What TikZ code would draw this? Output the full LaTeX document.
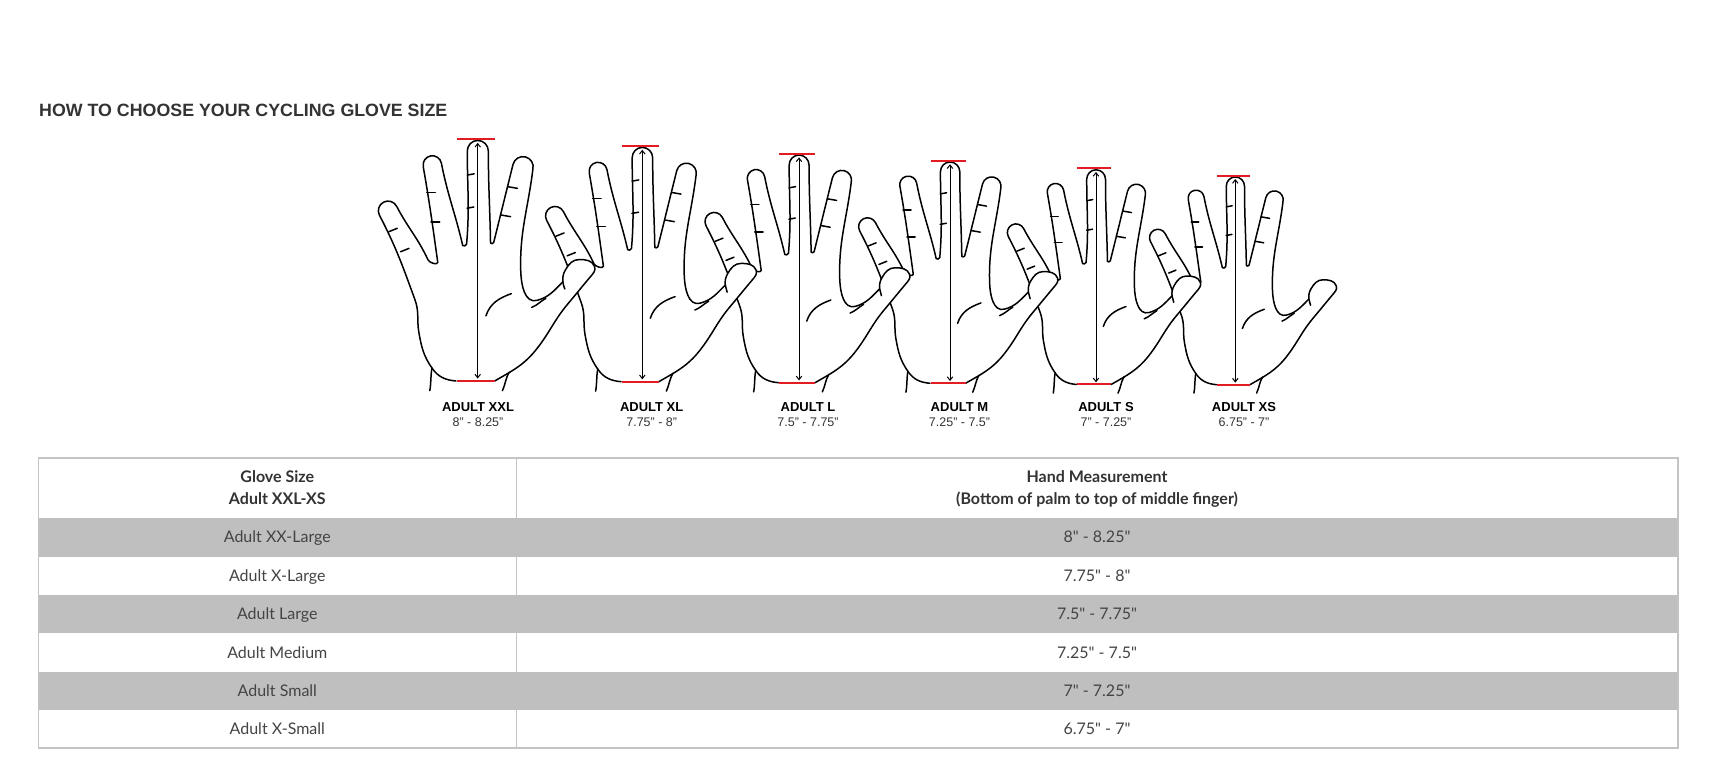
\documentclass[tikz,border=0pt]{standalone}
\usepackage{fontspec}
\setmainfont{Lato}[Ligatures=TeXOff]
\newfontfamily\arialf{Liberation Sans}
\usetikzlibrary{arrows.meta}
\definecolor{redbar}{HTML}{E31B23}
\definecolor{rowgray}{HTML}{BFBFBF}
\definecolor{tblline}{HTML}{C4C4C4}
\definecolor{txt}{HTML}{444444}
\definecolor{head}{HTML}{333333}
\tikzset{
  handline/.style={line width=1.5pt, line join=round, line cap=round, black},
  redline/.style={line width=2pt, redbar},
  measure/.style={line width=1pt, {Straight Barb[length=3.5pt,width=5.5pt]}-{Straight Barb[length=3.5pt,width=5.5pt]}},
  tblborder/.style={line width=1.5pt, tblline},
  plain/.style={inner sep=0pt, anchor=base},
  rowtext/.style={plain, font=\fontsize{16}{19}\selectfont, text=txt},
  hdrtext/.style={plain, font=\fontsize{16}{19}\selectfont\bfseries, text=head},
  lblname/.style={plain, font=\arialf\fontsize{13}{15}\selectfont\bfseries, text=black},
  lblsize/.style={plain, font=\arialf\fontsize{12.5}{14}\selectfont, text=head},
  hand/.pic={
    \draw[handline, fill=white]
      (-9,0) to[out=175,in=-55] (-18.8,5.2)
      to[out=125,in=-80] (-24.3,20)
      to[out=100,in=-70] (-25.9,33.5)
      to[out=110,in=-62.5] (-40.6,68.5)
      to[out=117.5,in=207.5] (-38.9,73.9)
      to[out=27.5,in=117.5] (-33.5,72.2)
      to[out=-62.5,in=115] (-20.5,50)
      to[out=-65,in=-95,looseness=0.8] (-16.5,49)
      to[out=98,in=-80] (-22.5,88.5)
      to[out=101,in=191] (-19.5,93)
      to[out=11,in=101] (-15,90)
      to[out=-79,in=103] (-6.2,56)
      to[out=-77,in=-95,looseness=0.9] (-4.6,56.5)
      to[out=85,in=-90] (-4.3,95)
      to[out=90,in=180] (0,99.4)
      to[out=0,in=90] (4.4,95)
      to[out=-90,in=91] (5.3,57)
      to[out=-89,in=-104,looseness=0.9] (6.6,57.2)
      to[out=76,in=-104] (14.6,89.5)
      to[out=76,in=166] (19.7,92.6)
      to[out=-14,in=76] (22.8,87.5)
      to[out=-97,in=92] (17.8,45)
      to[out=-88,in=195] (24.5,33.3)
      to[out=15,in=-135] (35.2,41)
      to[out=95,in=-120] (36.3,46)
      to[out=60,in=180] (42,50.2)
      to[out=0,in=110] (48.3,47.3)
      to[out=-70,in=50] (46.5,43)
      to[out=-130,in=50] (37.2,31.8)
      to[out=-130,in=52] (24.5,13.4)
      to[out=-128,in=30] (7,0);
    % palm crease
    \draw[handline] (3.4,26.9) to[out=72,in=200] (13.9,36.1);
    % thumb web and thumb crease
    \draw[handline] (22.3,30.4) to[out=22,in=-150] (28.2,34.2);
    \draw[handline] (35.2,41) to[out=-85,in=110] (36,38);
    % knuckle ticks
    \draw[handline] (-36.7,61.7) -- ++(3.5,1.4);
    \draw[handline] (-31.9,53.4) -- ++(3.5,1.4);
    \draw[handline] (-21.1,77.8) -- ++(3.6,0);
    \draw[handline] (-19.3,65.8) -- ++(3.6,0);
    \draw[handline] (-4.3,85.1) -- ++(2.8,0.5);
    \draw[handline] (-4.4,71.4) -- ++(2.8,0.5);
    \draw[handline] (12.4,80.3) -- ++(4,-0.7);
    \draw[handline] (9.6,68.6) -- ++(4,-0.7);
    % wrist lines
    \draw[handline] (-18.9,5.4) to[out=-100,in=80] (-19.8,-4);
    \draw[handline] (10.2,-4) to[out=65,in=-120] (13,3.6);
    % measuring bars and arrow
    \draw[redline] (-8.7,0) -- (7,0);
    \draw[redline] (-8.7,100) -- (7,100);
    \coordinate (-bot) at (0,1);
    \coordinate (-top) at (0,98.4);
    \draw[measure] (-bot) -- (-top);
  }
}
\begin{document}
\begin{tikzpicture}[x=1pt,y=1pt]
\useasboundingbox[fill=white] (0,0) rectangle (1735,766);
% title
\node[plain, anchor=base west, font=\arialf\fontsize{17.8}{20}\selectfont\bfseries, text=head] (title) at (39,649) {HOW TO CHOOSE YOUR CYCLING GLOVE SIZE};
% hands, back to front
\pic[scale=2.09] (xs) at (1235.3,381.3) {hand};
\pic[scale=2.16] (s) at (1096,381.5) {hand};
\pic[scale=2.226] (m) at (950,382.7) {hand};
\pic[scale=2.29] (l) at (799,383.3) {hand};
\pic[scale=2.357] (xl) at (642.3,384.3) {hand};
\pic[scale=2.42] (xxl) at (477.7,385) {hand};
% hand labels
\node[lblname] (nxxl) at (478,354.3) {ADULT XXL};
\node[lblsize] (sxxl) at (478,339.3) {8” - 8.25”};
\node[lblname] (nxl) at (651.7,354.3) {ADULT XL};
\node[lblsize] (sxl) at (651.7,339.3) {7.75” - 8”};
\node[lblname] (nl) at (808,354.3) {ADULT L};
\node[lblsize] (sl) at (808,339.3) {7.5” - 7.75”};
\node[lblname] (nm) at (959.5,354.3) {ADULT M};
\node[lblsize] (sm) at (959.5,339.3) {7.25” - 7.5”};
\node[lblname] (ns) at (1106,354.3) {ADULT S};
\node[lblsize] (ss) at (1106,339.3) {7” - 7.25”};
\node[lblname] (nxs) at (1244,354.3) {ADULT XS};
\node[lblsize] (sxs) at (1244,339.3) {6.75” - 7”};
% table
\fill[rowgray] (38.3,209.3) rectangle (1678,248);
\fill[rowgray] (38.3,132.5) rectangle (1678,171);
\fill[rowgray] (38.3,56) rectangle (1678,94);
\draw[tblborder] (38.3,18) rectangle (1678,308);
\draw[tblborder] (516.3,248) -- (516.3,308);
\draw[tblborder] (516.3,171) -- (516.3,209.3);
\draw[tblborder] (516.3,94) -- (516.3,132.5);
\draw[tblborder] (516.3,18) -- (516.3,56);
\node[hdrtext] (h1a) at (277.3,283.7) {Glove Size};
\node[hdrtext] (h1b) at (277.3,261.4) {Adult XXL-XS};
\node[hdrtext] (h2a) at (1097,283.7) {Hand Measurement};
\node[hdrtext] (h2b) at (1097,261.4) {(Bottom of palm to top of middle finger)};
\node[rowtext] (r1a) at (277.3,223.1) {Adult XX-Large};
\node[rowtext] (r1b) at (1097,223.1) {8" - 8.25"};
\node[rowtext] (r2a) at (277.3,184.6) {Adult X-Large};
\node[rowtext] (r2b) at (1097,184.6) {7.75" - 8"};
\node[rowtext] (r3a) at (277.3,146.2) {Adult Large};
\node[rowtext] (r3b) at (1097,146.2) {7.5" - 7.75"};
\node[rowtext] (r4a) at (277.3,107.7) {Adult Medium};
\node[rowtext] (r4b) at (1097,107.7) {7.25" - 7.5"};
\node[rowtext] (r5a) at (277.3,69.4) {Adult Small};
\node[rowtext] (r5b) at (1097,69.4) {7" - 7.25"};
\node[rowtext] (r6a) at (277.3,31.4) {Adult X-Small};
\node[rowtext] (r6b) at (1097,31.4) {6.75" - 7"};
\end{tikzpicture}
\end{document}
